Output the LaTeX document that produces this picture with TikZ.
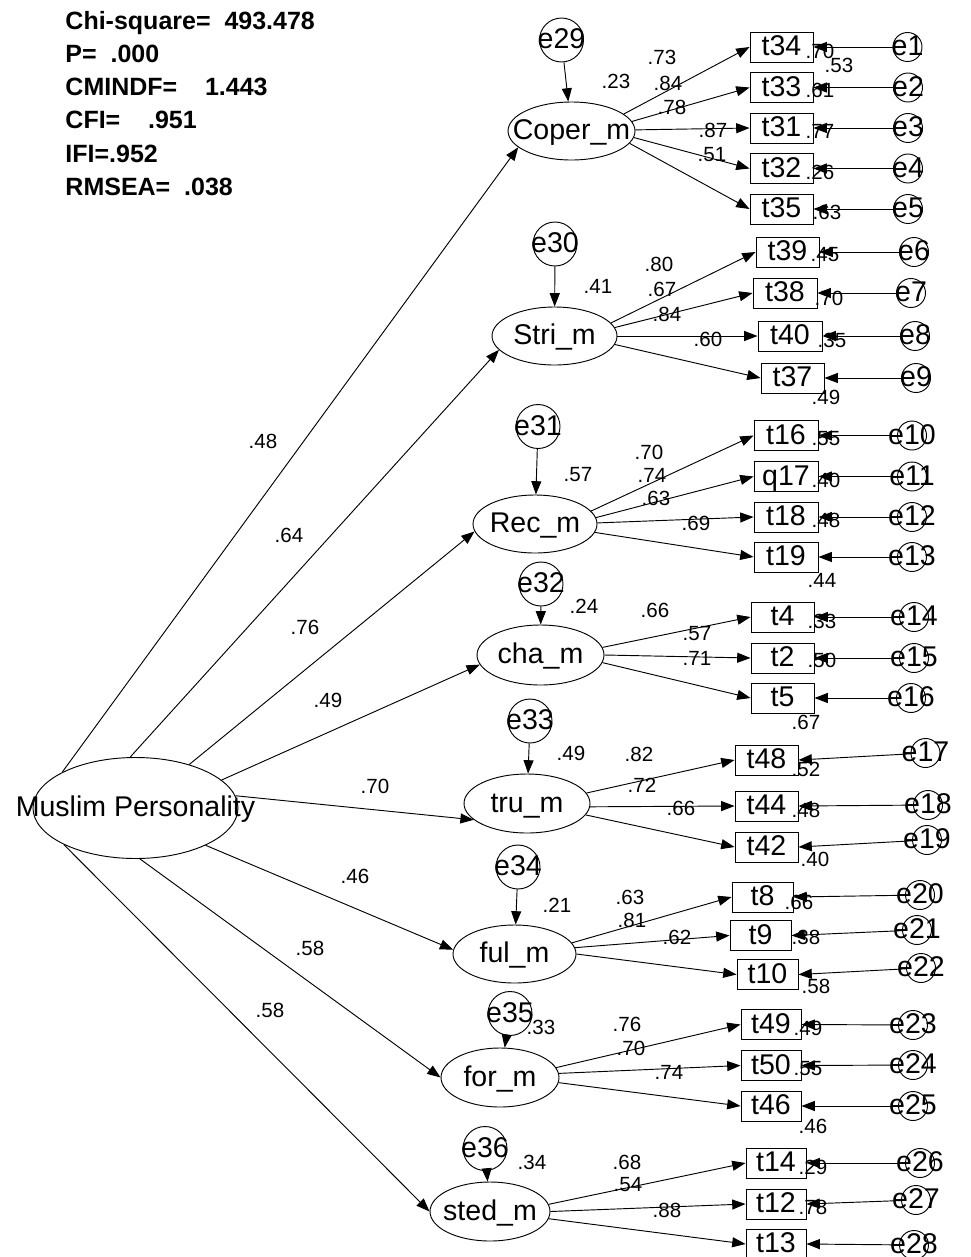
\documentclass[tikz,border=0pt]{standalone}
\usepackage{fontspec}
\setmainfont{Liberation Sans}
\usetikzlibrary{shapes.geometric,arrows.meta}
\begin{document}
\begin{tikzpicture}[x=0.75pt,y=-0.75pt,line width=0.7pt,
  lbl/.style={font=\fontsize{21.4}{24}\selectfont,inner sep=0pt,text height=15pt,text depth=2.1pt},
  coef/.style={font=\fontsize{15.4}{18}\selectfont,inner sep=0pt},
  fitstat/.style={font=\bfseries\fontsize{18.75}{22}\selectfont,inner sep=0pt,anchor=base west},
  latent/.style={draw,ellipse,inner sep=0pt},
  obs/.style={draw,rectangle,lbl,minimum height=22.5pt,minimum width=#1*0.75pt},
  err/.style={draw,circle,inner sep=0pt,minimum size=21.75pt},
  distc/.style={draw,circle,inner sep=0pt,minimum size=33pt},
  arr/.style={-{Triangle[length=10pt,width=7.5pt]}}]
\useasboundingbox (0,0) rectangle (971,1257);

% fit indices
\node[fitstat] (st1) at (65,29)  {Chi-square=\ \ 493.478};
\node[fitstat] (st2) at (65,62)  {P=\ \ .000};
\node[fitstat] (st3) at (65,95)  {CMINDF=\ \ \ \ 1.443};
\node[fitstat] (st4) at (65,128) {CFI=\ \ \ \ .951};
\node[fitstat] (st5) at (65,162) {IFI=.952};
\node[fitstat] (st6) at (65,195) {RMSEA=\ \ .038};

% second-order factor
\node[latent,minimum width=153.75pt,minimum height=75.75pt] (mp) at (135.5,808) {};
\node[lbl] (mp-t) at (135.5,808) {Muslim Personality};

% first-order factors
\foreach \n/\x/\y/\w/\h/\t in {
  L1/571.5/131/127/58/Coper\_m,
  L2/554.5/336/125/58/Stri\_m,
  L3/535/524/124/58/Rec\_m,
  L4/540.5/655/127/60/cha\_m,
  L5/527/803.5/126/59/tru\_m,
  L6/514.5/954/123/58/ful\_m,
  L7/500/1077.5/118/59/for\_m,
  L8/490/1211.5/120/59/sted\_m}{
  \node[latent,minimum width=\w*0.75pt,minimum height=\h*0.75pt] (\n) at (\x,\y) {};
  \node[lbl] (\n-t) at (\x,\y) {\t};
}

% indicators
\foreach \n/\x/\y/\w in {
  t34/781.5/47/63, t33/781.5/87.5/63, t31/781.5/128/63, t32/781.5/168.5/63, t35/781.5/209/63,
  t39/787.5/252/63, t38/785/293/64, t40/790/336/64, t37/792.5/378/63,
  t16/786/435.5/64, q17/786/476.5/64, t18/786/517/64, t19/786/557/64,
  t4/782.5/617/63, t2/782.5/658/63, t5/782.5/698/63,
  t48/766.5/760/63, t44/766.5/806/63, t42/766.5/847/63,
  t8/762.5/897/61, t9/760.5/935.5/61, t10/767.5/974.5/61,
  t49/771/1024.5/60, t50/771/1065.5/60, t46/771/1106/60,
  t14/776/1163/60, t12/776/1204/60, t13/776/1244/60}{
  \node[obs=\w] (\n) at (\x,\y) {\n};
}

% measurement errors
\foreach \n/\x/\y in {
  e1/907.5/47, e2/908/87.5, e3/908/128, e4/908/168.5, e5/908/209,
  e6/914/252, e7/911/293, e8/915/336, e9/916/378,
  e10/912/435.5, e11/912/476.5, e12/912/517, e13/912/557,
  e14/914/617, e15/914/658, e16/911/698,
  e17/925.5/753, e18/928/805, e19/927/840,
  e20/920/895, e21/917/930, e22/921/968,
  e23/913/1025, e24/913/1065, e25/913/1106,
  e26/920/1163, e27/916/1200, e28/914/1245}{
  \node[err] (\n) at (\x,\y) {};
  \node[lbl] (\n-t) at (\x,\y) {\n};
}

% disturbances
\foreach \n/\x/\y in {
  e29/561.5/40, e30/555/244, e31/538/426.5, e32/541/584,
  e33/530/721, e34/518/867, e35/510/1013.5, e36/485/1148.5}{
  \node[distc] (\n) at (\x,\y) {};
  \node[lbl] (\n-t) at (\x,\y) {\n};
}

% structural paths
\foreach \a/\L/\b in {154.5/L1/197, 96/L2/194.6, 39.3/L3/187, 18.5/L4/189.7,
  7.9/L5/197.6, 332/L6/176, 275/L7/180, 207/L8/180}{
  \draw[arr] (mp.\a) -- (\L.\b);
}

% loadings
\foreach \L/\a/\t in {
  L1/18.9/t34, L1/9.2/t33, L1/1.8/t31, L1/354.4/t32, L1/348/t35,
  L2/13.7/t39, L2/8.2/t38, L2/0/t40, L2/352.8/t37,
  L3/13.6/t16, L3/6.4/q17, L3/1/t18, L3/352.6/t19,
  L4/7.2/t4, L4/0/t2, L4/353/t5,
  L5/10/t48, L5/357/t44, L5/349/t42,
  L6/11.8/t8, L6/6.6/t9, L6/0/t10,
  L7/10.4/t49, L7/4.4/t50, L7/355.6/t46,
  L8/7.8/t14, L8/0/t12, L8/353.6/t13}{
  \draw[arr] (\L.\a) -- (\t.west);
}

% error paths
\foreach \e/\t in {
  e1/t34, e2/t33, e3/t31, e4/t32, e5/t35,
  e6/t39, e7/t38, e8/t40, e9/t37,
  e10/t16, e11/q17, e12/t18, e13/t19,
  e14/t4, e15/t2, e16/t5,
  e17/t48, e18/t44, e19/t42,
  e20/t8, e21/t9, e22/t10,
  e23/t49, e24/t50, e25/t46,
  e26/t14, e27/t12, e28/t13}{
  \draw[arr] (\e) -- (\t.east);
}
\foreach \e/\L in {e29/L1, e30/L2, e31/L3, e32/L4, e33/L5, e34/L6, e35/L7, e36/L8}{
  \draw[arr] (\e) -- (\L);
}

% estimates
\foreach \x/\y/\t [count=\i] in {
  616/81/.23, 662/57.5/.73, 668/83/.84, 672/107/.78, 713/130/.87, 712/155/.51,
  820/51/.70, 839/65/.53, 820/90/.61, 820/131/.77, 820/172/.26, 827/212/.63,
  598/286/.41, 659/264.5/.80, 662/289/.67, 667/314/.84, 708/339/.60,
  825/255/.45, 829/298/.70, 832/340/.35, 826/397/.49,
  578/475/.57, 649/452/.70, 652/475/.74, 656/498/.63, 696/523/.69,
  826/439/.55, 826/480/.40, 826/520/.48, 822/580/.44,
  584/606/.24, 655/610/.66, 697/634/.57, 697/658/.71,
  822/621/.33, 822/660/.50, 806/722/.67,
  571/753/.49, 639/754/.82, 642/785/.72, 681/808/.66,
  806/769/.52, 806/810/.48, 815/859/.40,
  557/905/.21, 630/897/.63, 632/920/.81, 677/937/.62,
  799/902/.66, 806/937/.38, 816/986/.58,
  541/1027/.33, 627/1024/.76, 631/1048/.70, 669/1072/.74,
  808/1028/.49, 808/1069/.55, 813/1126/.46,
  532/1162/.34, 627/1162/.68, 628/1185/.54, 667/1210/.88,
  813/1167/.29, 813/1207/.78,
  263/441/.48, 289/535/.64, 305/627/.76, 328/700/.49,
  375/786/.70, 355/876/.46, 310/948/.58, 270/1010/.58}{
  \node[coef] (c\i) at (\x,\y) {\t};
}
\end{tikzpicture}
\end{document}
